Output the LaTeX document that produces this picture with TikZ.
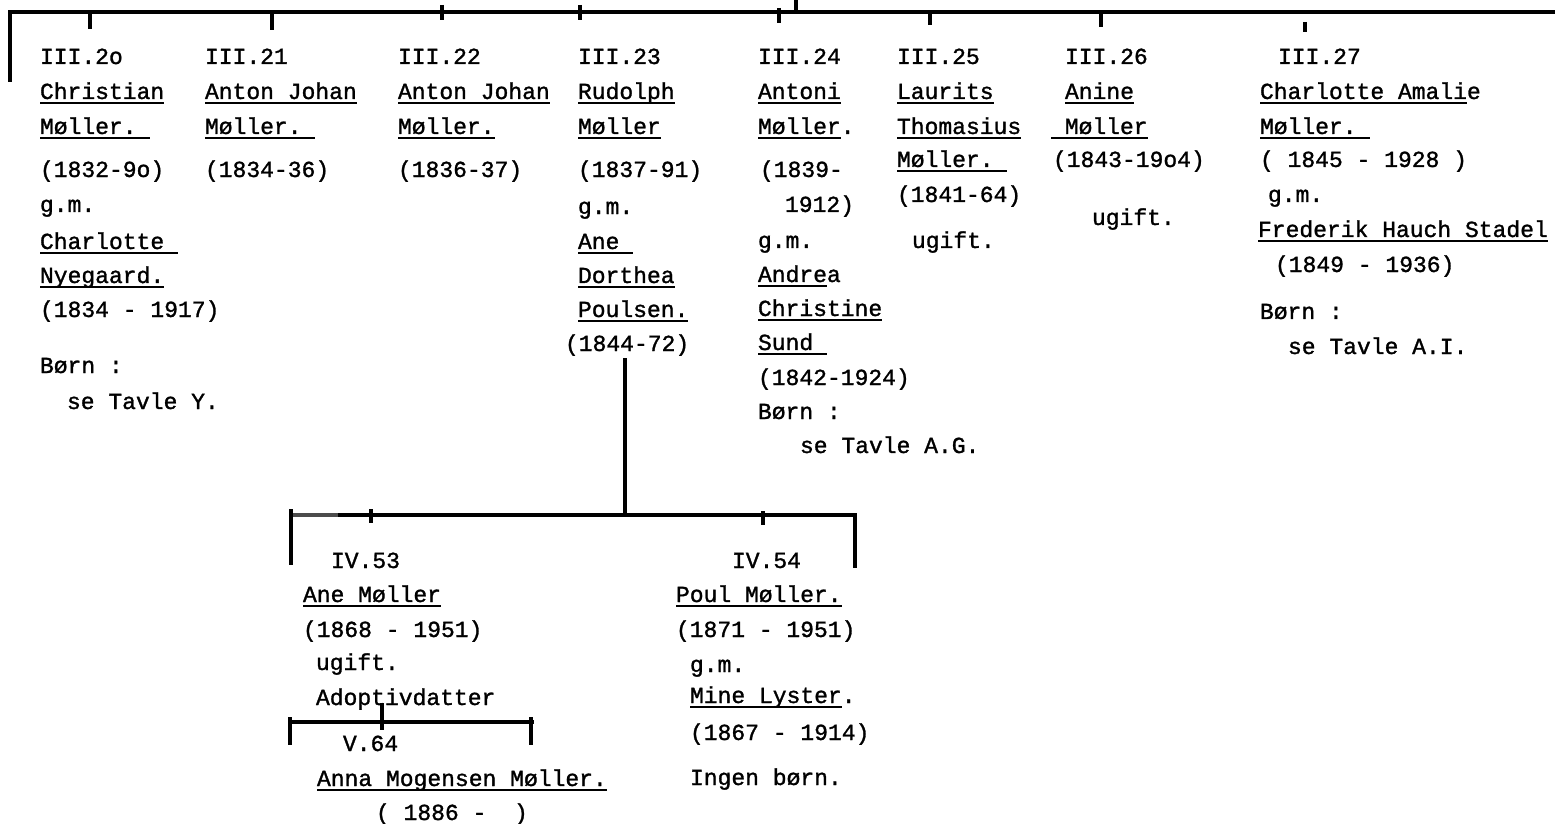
\documentclass[tikz,border=0pt]{standalone}
\usepackage{fontspec}
\newfontfamily\tyfam{Liberation Mono}[FakeBold=1.3]
\newcommand\tyul[1]{\setbox0=\hbox{#1}\rlap{\rule[-2.3pt]{\wd0}{1pt}}\box0}
\begin{document}
\begin{tikzpicture}[x=0.5pt,y=-0.5pt,
  tx/.style={inner sep=0pt,outer sep=0pt,anchor=base west,font=\tyfam\fontsize{11.5}{13}\selectfont},
  ln/.style={line width=1.6pt,line cap=butt}]
\useasboundingbox (0,0) rectangle (1555,824);
% ---------- generation III ----------
\node[tx] (a1) at (40,64) {III.2o};
\node[tx] (a2) at (40,99) {\tyul{Christian}};
\node[tx] (a3) at (40,134) {\tyul{Møller.\ }};
\node[tx] (a4) at (40,177) {(1832-9o)};
\node[tx] (a5) at (40,212) {g.m.};
\node[tx] (a6) at (40,249) {\tyul{Charlotte\ }};
\node[tx] (a7) at (40,283) {\tyul{Nyegaard.}};
\node[tx] (a8) at (40,317) {(1834 - 1917)};
\node[tx] (a9) at (40,373) {Børn :};
\node[tx] (a10) at (67,409) {se Tavle Y.};
%
\node[tx] (b1) at (205,64) {III.21};
\node[tx] (b2) at (205,99) {\tyul{Anton Johan}};
\node[tx] (b3) at (205,134) {\tyul{Møller.\ }};
\node[tx] (b4) at (205,177) {(1834-36)};
%
\node[tx] (c1) at (398,64) {III.22};
\node[tx] (c2) at (398,99) {\tyul{Anton Johan}};
\node[tx] (c3) at (398,134) {\tyul{Møller.}};
\node[tx] (c4) at (398,177) {(1836-37)};
%
\node[tx] (d1) at (578,64) {III.23};
\node[tx] (d2) at (578,99) {\tyul{Rudolph}};
\node[tx] (d3) at (578,134) {\tyul{Møller}};
\node[tx] (d4) at (578,177) {(1837-91)};
\node[tx] (d5) at (578,214) {g.m.};
\node[tx] (d6) at (578,249) {\tyul{Ane\ }};
\node[tx] (d7) at (578,283) {\tyul{Dorthea}};
\node[tx] (d8) at (578,317) {\tyul{Poulsen.}};
\node[tx] (d9) at (565,351) {(1844-72)};
%
\node[tx] (e1) at (758,64) {III.24};
\node[tx] (e2) at (758,99) {\tyul{Antoni}};
\node[tx] (e3) at (758,134) {\tyul{Møller}.};
\node[tx] (e4) at (760,177) {(1839-};
\node[tx] (e5) at (785,212) {1912)};
\node[tx] (e6) at (758,248) {g.m.};
\node[tx] (e7) at (758,282) {\tyul{Andre}a};
\node[tx] (e8) at (758,316) {\tyul{Christine}};
\node[tx] (e9) at (758,350) {\tyul{Sund\ }};
\node[tx] (e10) at (758,385) {(1842-1924)};
\node[tx] (e11) at (758,419) {Børn :};
\node[tx] (e12) at (800,453) {se Tavle A.G.};
%
\node[tx] (f1) at (897,64) {III.25};
\node[tx] (f2) at (897,99) {\tyul{Laurits}};
\node[tx] (f3) at (897,134) {\tyul{Thomasius}};
\node[tx] (f4) at (897,167) {\tyul{Møller.\ }};
\node[tx] (f5) at (897,202) {(1841-64)};
\node[tx] (f6) at (912,248) {ugift.};
%
\node[tx] (g1) at (1065,64) {III.26};
\node[tx] (g2) at (1065,99) {\tyul{Anine}};
\node[tx] (g3) at (1051,134) {\tyul{\ Møller}};
\node[tx] (g4) at (1053,167) {(1843-19o4)};
\node[tx] (g5) at (1092,225) {ugift.};
%
\node[tx] (h1) at (1278,64) {III.27};
\node[tx] (h2) at (1260,99) {\tyul{Charlotte Amali}e};
\node[tx] (h3) at (1260,134) {\tyul{Møller.\ }};
\node[tx] (h4) at (1260,167) {( 1845 - 1928 )};
\node[tx] (h5) at (1268,202) {g.m.};
\node[tx] (h6) at (1258,237) {\tyul{Frederik Hauch Stadel}};
\node[tx] (h7) at (1275,272) {(1849 - 1936)};
\node[tx] (h8) at (1260,319) {Børn :};
\node[tx] (h9) at (1288,354) {se Tavle A.I.};
% ---------- generation IV ----------
\node[tx] (i1) at (331,568) {IV.53};
\node[tx] (i2) at (303,602) {\tyul{Ane Møller}};
\node[tx] (i3) at (303,637) {(1868 - 1951)};
\node[tx] (i4) at (316,670) {ugift.};
\node[tx] (i5) at (316,705) {Adoptivdatter};
\node[tx] (i6) at (343,751) {V.64};
\node[tx] (i7) at (317,786) {\tyul{Anna Mogensen Møller.}};
\node[tx] (i8) at (376,820) {( 1886 -\ \ )};
%
\node[tx] (j1) at (732,568) {IV.54};
\node[tx] (j2) at (676,602) {\tyul{Poul Møller.}};
\node[tx] (j3) at (676,637) {(1871 - 1951)};
\node[tx] (j4) at (690,672) {g.m.};
\node[tx] (j5) at (690,703) {\tyul{Mine Lyster}.};
\node[tx] (j6) at (690,740) {(1867 - 1914)};
\node[tx] (j7) at (690,785) {Ingen børn.};
% ---------- connectors ----------
\coordinate (topLd) at (10,82);
\coordinate (topL) at (10,12);
\coordinate (topR) at (1555,12);
\draw[ln] (topLd) -- (topL) -- (topR);
\coordinate (upA) at (796,0);
\coordinate (upB) at (796,12);
\draw[ln] (upA) -- (upB);
\foreach \n/\x/\ya/\yb in {t20/90/12/29,t21/272/12/30,t22/442/5/20,t23/580/5/20,t24/779/8/23,t25/930/12/25,t26/1101/12/27,t27/1305/22/32}{
  \coordinate (\n-a) at (\x,\ya);
  \coordinate (\n-b) at (\x,\yb);
  \draw[ln] (\n-a) -- (\n-b);
}
% Rudolph's children
\coordinate (rA) at (625,358);
\coordinate (rB) at (625,515);
\draw[ln] (rA) -- (rB);
\coordinate (b4Ld) at (291,565);
\coordinate (b4L) at (291,509);
\coordinate (b4Lh) at (291,515);
\coordinate (b4R) at (855,515);
\coordinate (b4Rd) at (855,568);
\draw[ln] (b4L) -- (b4Ld);
\draw[ln] (b4Lh) -- (b4R) -- (b4Rd);
\draw[line width=2.2pt,black!70] (293,515) -- (338,515);
\foreach \n/\x/\ya/\yb in {t53/371/509/523,t54/763/511/525}{
  \coordinate (\n-a) at (\x,\ya);
  \coordinate (\n-b) at (\x,\yb);
  \draw[ln] (\n-a) -- (\n-b);
}
% adopted daughter
\coordinate (b5L) at (289,722);
\coordinate (b5R) at (534,722);
\draw[ln] (b5L) -- (b5R);
\coordinate (b5La) at (290,717);
\coordinate (b5Lb) at (290,745);
\draw[ln] (b5La) -- (b5Lb);
\coordinate (b5Ra) at (531,717);
\coordinate (b5Rb) at (531,745);
\draw[ln] (b5Ra) -- (b5Rb);
\coordinate (t64a) at (382,703);
\coordinate (t64b) at (382,730);
\draw[ln] (t64a) -- (t64b);
\end{tikzpicture}
\end{document}
